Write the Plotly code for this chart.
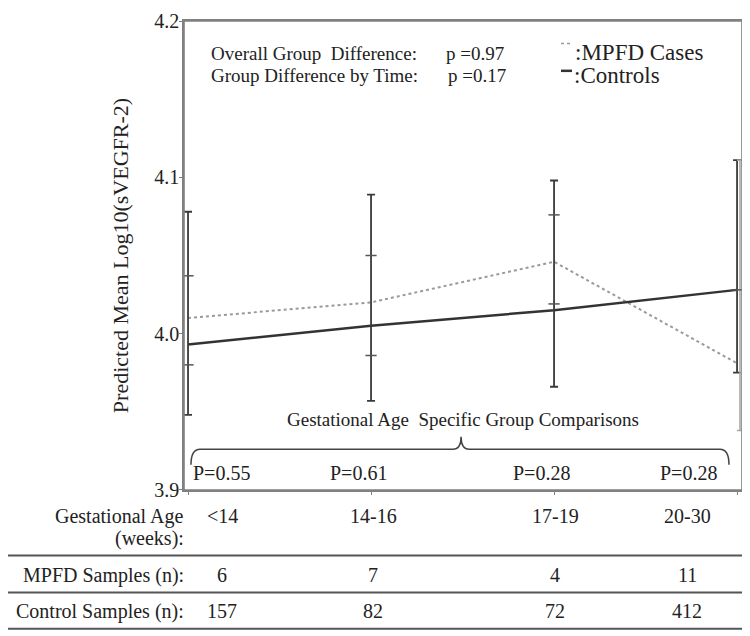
import plotly.graph_objects as go

# ---------------- data ----------------
categories = ["<14", "14-16", "17-19", "20-30"]
mpfd_mean = [4.010, 4.020, 4.046, 3.981]
ctrl_mean = [3.993, 4.005, 4.015, 4.028]
ci_upper = [4.078, 4.089, 4.098, 4.111]
ci_lower = [3.948, 3.957, 3.966, 3.975]
ci_lower_ext = [None, None, None, 3.938]
inner_upper = [4.037, 4.050, 4.076, 4.028]
inner_lower = [3.980, 3.986, 4.019, None]
p_values = ["P=0.55", "P=0.61", "P=0.28", "P=0.28"]
mpfd_n = [6, 7, 4, 11]
ctrl_n = [157, 82, 72, 412]
overall_p = "p =0.97"
time_p = "p =0.17"
y_ticks = [3.9, 4.0, 4.1, 4.2]

FONT = "Liberation Serif, Times New Roman, serif"
DARK = "#333333"
GRAY = "#9a9a9a"
FRAME = "#808080"
TXT = "#222222"

x_idx = list(range(len(categories)))

fig = go.Figure()

# MPFD dotted line
fig.add_trace(go.Scatter(x=x_idx, y=mpfd_mean, mode="lines",
                         line=dict(color=GRAY, width=2, dash="dot"),
                         name=":MPFD Cases", showlegend=False, hoverinfo="skip"))
# Controls solid line
fig.add_trace(go.Scatter(x=x_idx, y=ctrl_mean, mode="lines",
                         line=dict(color=DARK, width=2.5),
                         name=":Controls", showlegend=False, hoverinfo="skip"))

# main interval bars
fig.add_trace(go.Scatter(
    x=x_idx, y=ci_lower, mode="markers",
    marker=dict(size=1, color="rgba(0,0,0,0)"),
    error_y=dict(type="data", symmetric=False,
                 array=[u - l for u, l in zip(ci_upper, ci_lower)],
                 arrayminus=[0] * len(ci_lower),
                 color="#3a3a3a", thickness=1.8, width=4),
    showlegend=False, hoverinfo="skip"))

# light extension bar (last group)
ext_x = [i + 0.016 for i, v in zip(x_idx, ci_lower_ext) if v is not None]
ext_lo = [v for v in ci_lower_ext if v is not None]
ext_up = [u for u, v in zip(ci_upper, ci_lower_ext) if v is not None]
fig.add_trace(go.Scatter(
    x=ext_x, y=ext_lo, mode="markers",
    marker=dict(size=1, color="rgba(0,0,0,0)"),
    error_y=dict(type="data", symmetric=False,
                 array=[u - l for u, l in zip(ext_up, ext_lo)],
                 arrayminus=[0] * len(ext_lo),
                 color="#a8a8a8", thickness=1.6, width=3),
    showlegend=False, hoverinfo="skip"))

# inner interval ticks
tx, ty = [], []
for i, (u, l) in enumerate(zip(inner_upper, inner_lower)):
    for v in (u, l):
        if v is not None:
            tx.append(i)
            ty.append(v)
fig.add_trace(go.Scatter(
    x=tx, y=ty, mode="markers",
    marker=dict(symbol="line-ew", size=8, line=dict(color="#555555", width=1.5)),
    showlegend=False, hoverinfo="skip"))

# ---------------- layout ----------------
OFF = 8                      # default page body margin
W, H = 750 - OFF, 636 - OFF
L, R, T, B = 184 - OFF, 8, 10 - OFF, H - (490 - OFF)
pw, ph = W - L - R, H - T - B


def px(xpix):
    return (xpix - OFF - L) / pw


def py(ypix):
    return (H - B - (ypix - OFF)) / ph


ann = []


def text(s, x, y, anchor="left", size=19):
    ann.append(dict(text=s, x=x, y=y, xref="paper", yref="paper",
                    xanchor=anchor, yanchor="middle", showarrow=False,
                    font=dict(family=FONT, size=size, color=TXT)))


text("Overall Group  Difference:", px(209), py(43))
text(overall_p, px(444), py(43))
text("Group Difference by Time:", px(209), py(66))
text(time_p, px(446), py(66))
text(":MPFD Cases", px(573), py(42), size=23)
text(":Controls", px(572), py(66), size=23)
text("Gestational Age  Specific Group Comparisons", px(463), py(418), "center")

p_x = [221, 358, 541, 688]
for s, xp in zip(p_values, p_x):
    text(s, px(xp), py(473), "center", size=20)

col_x = [222, 373, 555, 687]
text("Gestational Age", px(185), py(517), "right", size=20)
text("(weeks):", px(186), py(540), "right", size=20)
for c, xp in zip(categories, col_x):
    text(c, px(xp), py(517), "center", size=20)
text("MPFD Samples (n):", px(186), py(577), "right", size=20)
for n, xp in zip(mpfd_n, col_x):
    text(str(n), px(xp), py(577), "center", size=20)
text("Control Samples (n):", px(186), py(614), "right", size=20)
for n, xp in zip(ctrl_n, col_x):
    text(str(n), px(xp), py(614), "center", size=20)

shapes = []
# frame
shapes.append(dict(type="rect", xref="paper", yref="paper", x0=0, x1=1, y0=0, y1=1,
                   line=dict(color=FRAME, width=1.6)))
for yl in (557, 595, 632):
    shapes.append(dict(type="line", xref="paper", yref="paper",
                       x0=px(5), x1=px(745), y0=py(yl), y1=py(yl),
                       line=dict(color="#555555", width=2)))
# legend samples
shapes.append(dict(type="line", xref="paper", yref="paper",
                   x0=px(561), x1=px(573), y0=py(33), y1=py(33),
                   line=dict(color=GRAY, width=1.5, dash="dot")))
shapes.append(dict(type="line", xref="paper", yref="paper",
                   x0=px(561), x1=px(572), y0=py(61), y1=py(61),
                   line=dict(color=DARK, width=2.5)))
# bracket
bx0, bx1, bxm = 0.016, 2.956, 1.492
by_line, by_end, by_top = 3.926, 3.916, 3.934
path = (f"M {bx0},{by_end} Q {bx0},{by_line} {bx0+0.05},{by_line} "
        f"L {bxm-0.045},{by_line} Q {bxm},{by_line} {bxm},{by_top} "
        f"Q {bxm},{by_line} {bxm+0.045},{by_line} "
        f"L {bx1-0.05},{by_line} Q {bx1},{by_line} {bx1},{by_end}")
shapes.append(dict(type="path", xref="x", yref="y", path=path,
                   line=dict(color="#444444", width=1.5)))

fig.update_layout(
    width=W, height=H,
    margin=dict(l=L, r=R, t=T, b=B),
    paper_bgcolor="white", plot_bgcolor="white",
    annotations=ann, shapes=shapes,
    showlegend=False,
    xaxis=dict(range=[-0.022, 3.027], showline=True, mirror=True,
               linecolor=FRAME, linewidth=1.6, showgrid=False, zeroline=False,
               tickvals=x_idx, ticks="outside", ticklen=3, tickcolor=FRAME,
               showticklabels=False, fixedrange=True),
    yaxis=dict(range=[3.8999, 4.2001], tickvals=y_ticks, tickformat=".1f",
               showline=True, mirror=True, linecolor=FRAME, linewidth=1.6,
               showgrid=False, zeroline=False, ticks="outside",
               ticklen=3, tickcolor=FRAME, ticklabeloverflow="allow",
               ticklabelstandoff=-4,
               tickfont=dict(family=FONT, size=20, color=TXT),
               title=dict(text="Predicted Mean Log10(sVEGFR-2)",
                          font=dict(family=FONT, size=22, color=TXT),
                          standoff=20)),
)

fig.write_html("out.html")
